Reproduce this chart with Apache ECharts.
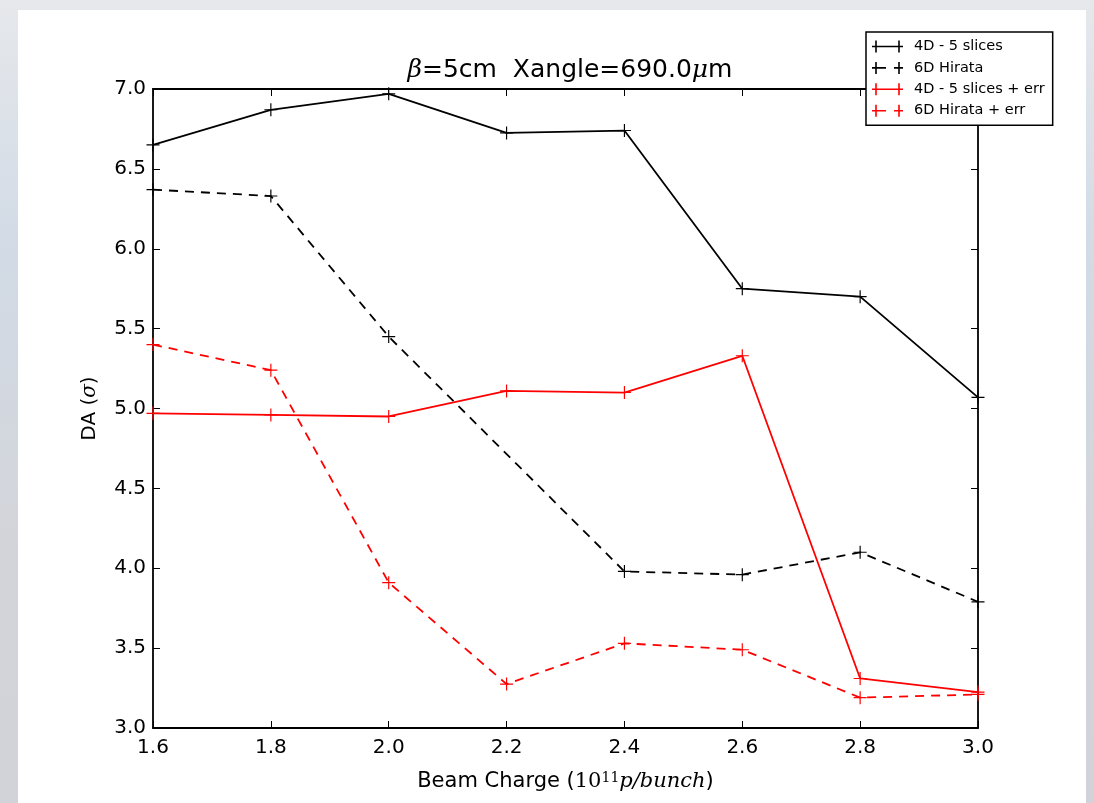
<!DOCTYPE html>
<html>
<head>
<meta charset="utf-8">
<script src="https://cdn.jsdelivr.net/npm/echarts@6/dist/echarts.min.js"></script>
<style>
html,body{margin:0;padding:0;width:1094px;height:803px;overflow:hidden;}
body{background:linear-gradient(180deg,#e6e8eb 0%,#d2dbe6 30%,#d3d4d9 70%,#d2d3d8 100%);}
#panel{position:absolute;left:18px;top:10px;width:1068px;height:793px;background:#ffffff;}
#chart{position:absolute;left:0;top:0;width:1094px;height:803px;}
</style>
</head>
<body>
<div id="panel"></div>
<div id="chart"></div>
<script>
// ---- data ----
const beamCharge = [1.6, 1.8, 2.0, 2.2, 2.4, 2.6, 2.8, 3.0];
const da4D       = [6.65, 6.87, 6.97, 6.725, 6.74, 5.75, 5.70, 5.07];
const da6D       = [6.37, 6.33, 5.45, null, 3.98, 3.96, 4.10, 3.79];
const da4DErr    = [4.97, 4.96, 4.95, 5.11, 5.10, 5.33, 3.31, 3.225];
const da6DErr    = [5.40, 5.24, 3.91, 3.275, 3.53, 3.49, 3.19, 3.21];
const seriesNames = ['4D - 5 slices', '6D Hirata', '4D - 5 slices + err', '6D Hirata + err'];
const xTicks = [1.6, 1.8, 2.0, 2.2, 2.4, 2.6, 2.8, 3.0];
const yTicks = [3.0, 3.5, 4.0, 4.5, 5.0, 5.5, 6.0, 6.5, 7.0];

const plusSymbol = 'path://M-0.09,-1L0.09,-1L0.09,-0.09L1,-0.09L1,0.09L0.09,0.09L0.09,1L-0.09,1L-0.09,0.09L-1,0.09L-1,-0.09L-0.09,-0.09Z';
const iconSolid = 'path://M0,5.2L31,5.2L31,6.8L0,6.8Z M3.2,0L4.8,0L4.8,12L3.2,12Z M26.2,0L27.8,0L27.8,12L26.2,12Z';
const iconDashed = 'path://M0,5.2L14,5.2L14,6.8L0,6.8Z M22,5.2L31,5.2L31,6.8L22,6.8Z M3.2,0L4.8,0L4.8,12L3.2,12Z M26.2,0L27.8,0L27.8,12L26.2,12Z';

function pairs(ys) { return beamCharge.map((x, i) => [x, ys[i]]); }

const FONT = 'DejaVu Sans';
function mkSeries(name, ys, color, dashed) {
  return {
    name: name, type: 'line', data: pairs(ys), connectNulls: true,
    symbol: plusSymbol, symbolSize: 13, showSymbol: true,
    itemStyle: { color: color, borderWidth: 0 },
    lineStyle: { color: color, width: 1.8, type: dashed ? [9, 7] : 'solid' },
    emphasis: { disabled: true }, animation: false, clip: false
  };
}

const chart = echarts.init(document.getElementById('chart'), null, { renderer: 'canvas' });
const axisCommon = {
  type: 'value', splitLine: { show: false },
  axisLine: { show: true, onZero: false, lineStyle: { color: '#000', width: 1.8 } },
  axisTick: { show: true, inside: true, length: 7, lineStyle: { color: '#000', width: 1 } }
};
chart.setOption({
  backgroundColor: 'transparent',
  animation: false,
  textStyle: { fontFamily: FONT },
  title: {
    text: '{i|β}=5cm  Xangle=690.0{i|μ}m',
    left: 565, top: 53, textAlign: 'center',
    textStyle: {
      fontFamily: FONT, fontSize: 25, fontWeight: 'normal', color: '#000',
      rich: { i: { fontFamily: 'DejaVu Serif', fontStyle: 'italic', fontSize: 25, color: '#000' } }
    }
  },
  legend: {
    orient: 'vertical', left: 866, top: 32,
    padding: [7, 8, 7, 6],
    backgroundColor: '#fff', borderColor: '#000', borderWidth: 1.5,
    itemWidth: 31, itemHeight: 12, itemGap: 6.4,
    itemStyle: { borderWidth: 0 },
    textStyle: { fontFamily: FONT, fontSize: 14.5, color: '#000', padding: [0, 0, 0, 6] },
    data: [
      { name: seriesNames[0], icon: iconSolid },
      { name: seriesNames[1], icon: iconDashed },
      { name: seriesNames[2], icon: iconSolid },
      { name: seriesNames[3], icon: iconDashed }
    ]
  },
  grid: { left: 153, top: 89, right: 116, bottom: 75, containLabel: false },
  xAxis: [
    Object.assign({}, axisCommon, {
      position: 'bottom', min: 1.6, max: 3.0, interval: 0.2,
      axisLabel: { color: '#000', fontSize: 20, fontFamily: FONT, margin: 10,
        formatter: v => v.toFixed(1) },
      name: 'Beam Charge ({m|10}{sup|11}{mi|p/bunch})',
      nameLocation: 'middle', nameGap: 43,
      nameTextStyle: { color: '#000', fontSize: 21, fontFamily: FONT,
        rich: {
          m: { fontFamily: 'DejaVu Serif', fontSize: 21, color: '#000' },
          sup: { fontFamily: 'DejaVu Serif', fontSize: 14, color: '#000', verticalAlign: 'top', lineHeight: 22 },
          mi: { fontFamily: 'DejaVu Serif', fontStyle: 'italic', fontSize: 21, color: '#000' }
        } }
    }),
    Object.assign({}, axisCommon, {
      position: 'top', min: 1.6, max: 3.0, interval: 0.2,
      axisLabel: { show: false }
    })
  ],
  yAxis: [
    Object.assign({}, axisCommon, {
      position: 'left', min: 3.0, max: 7.0, interval: 0.5,
      axisLabel: { color: '#000', fontSize: 20, fontFamily: FONT, margin: 7,
        formatter: v => v.toFixed(1) },
      name: 'DA ({i|σ})', nameLocation: 'middle', nameGap: 53, nameRotate: 90,
      nameTextStyle: { color: '#000', fontSize: 20, fontFamily: FONT,
        rich: { i: { fontFamily: 'DejaVu Serif', fontStyle: 'italic', fontSize: 20, color: '#000' } } }
    }),
    Object.assign({}, axisCommon, {
      position: 'right', min: 3.0, max: 7.0, interval: 0.5,
      axisLabel: { show: false }
    })
  ],
  series: [
    mkSeries(seriesNames[0], da4D, '#000000', false),
    mkSeries(seriesNames[1], da6D, '#000000', true),
    mkSeries(seriesNames[2], da4DErr, '#ff0000', false),
    mkSeries(seriesNames[3], da6DErr, '#ff0000', true)
  ]
});
</script>
</body>
</html>
